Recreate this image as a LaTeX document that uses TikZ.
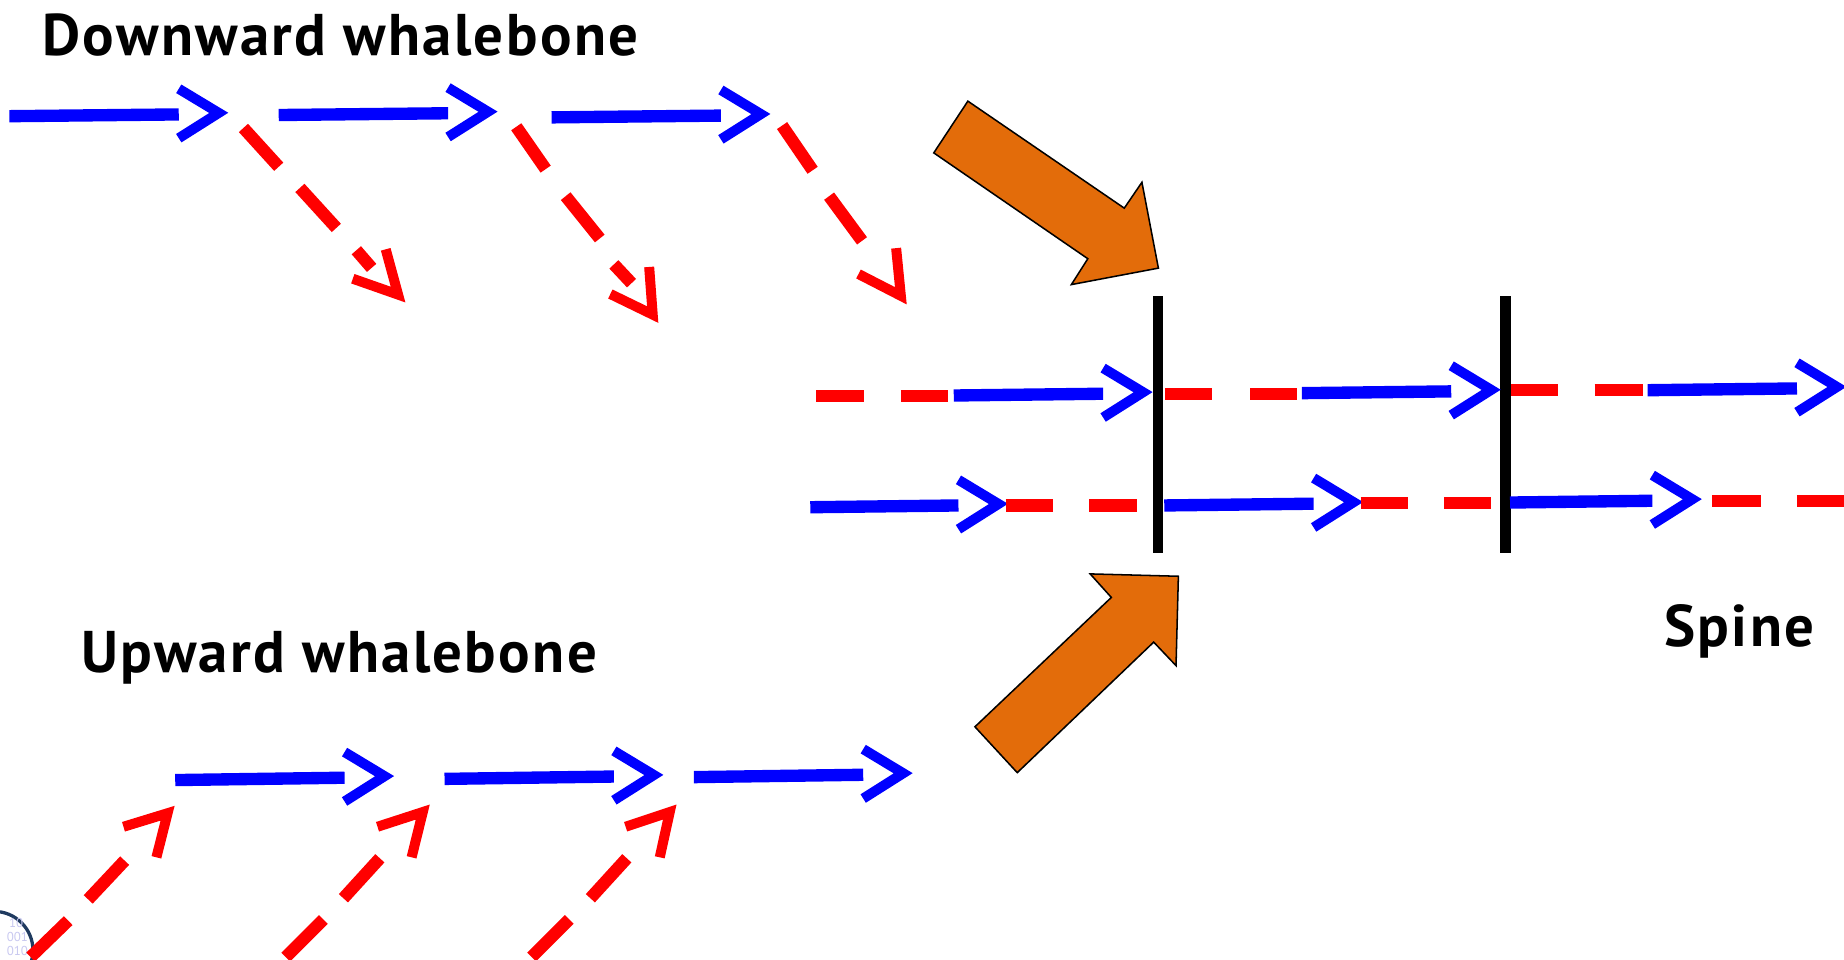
\documentclass[tikz,border=0pt]{standalone}
\usepackage{fontspec}
\setmainfont[LetterSpace=4]{PT Sans}
\newfontfamily\digitfont{PT Sans}
\definecolor{orangefill}{HTML}{E36C0A}
\definecolor{logoblue}{HTML}{1F3A5F}
\definecolor{digit}{HTML}{C8C8F0}
\tikzset{
  blueline/.style={draw=blue,line width=10.5pt,line cap=butt},
  redline/.style={draw=red,line width=10.5pt,line cap=butt},
  bluehead/.style={draw=blue,line width=8.5pt,miter limit=10,line join=miter},
  redhead/.style={draw=red,line width=8.5pt,miter limit=10,line join=miter},
  wall/.style={draw=black,line width=9pt},
  bigarrow/.style={fill=orangefill,draw=black,line width=1.3pt,line join=miter},
  label/.style={font=\fontsize{50}{50}\selectfont\bfseries,text=black,inner sep=0pt,anchor=base west},
  digitlabel/.style={inner sep=0pt,anchor=east,text=digit,font=\digitfont\fontsize{11}{11}\selectfont}
}
% blue arrow: shaft start x,y ; shaft end x,y ; the chevron follows the shaft end
\newcommand{\bluearr}[4]{%
  \draw[blueline] (#1,#2+0.8) -- (#3,#4+0.8);
  \draw[bluehead] (#3,#4-21) -- (#3+34,#4-0.5) -- (#3,#4+21);}
\newcommand{\redseg}[4]{\draw[redline] (#1,#2+0.8) -- (#3,#4+0.8);}
\begin{document}
\begin{tikzpicture}[x=1pt,y=-1pt]
\useasboundingbox (0,0) rectangle (1568,816.3);
% logo
\begin{scope}
\clip (0,0) rectangle (1568,816.3);
\draw[logoblue,line width=2.8pt] (-5,808) circle (33);
\end{scope}
\node[digitlabel] (d1) at (20,785) {10};
\node[digitlabel] (d2) at (24,797) {001};
\node[digitlabel] (d3) at (24,809) {010};
% texts
\node[label] (t1) at (36,47) {Downward whalebone};
\node[label] (t2) at (69,572) {Upward whalebone};
\node[label] (t3) at (1415,550) {Spine};
% top row
\bluearr{8}{98}{152}{96.5}
\bluearr{237}{97}{381}{95.5}
\bluearr{469}{99}{613}{97.5}
% downward red
\redseg{207}{108}{237}{141}\redseg{255}{159}{286}{193}\redseg{303}{212}{316}{227}
\draw[redhead] (328,212) -- (338.5,250.5) -- (300,237);
\redseg{439}{107}{464}{143}\redseg{481}{166}{510}{202}\redseg{522}{224}{537}{240}
\draw[redhead] (552,227) -- (555,267.5) -- (519,250);
\redseg{665}{106}{691}{144}\redseg{705}{166}{733}{204}
\draw[redhead] (762,211) -- (766,251.5) -- (730,233);
% orange
\draw[bigarrow] (823,86) -- (794,130) -- (925,220) -- (911,242) -- (985,228) -- (971,155) -- (956,177) -- cycle;
\draw[bigarrow] (829,618) -- (865,657) -- (981,546) -- (1000,566) -- (1002,490) -- (927,488) -- (945,508) -- cycle;
% spine walls
\draw[wall] (984.5,252) -- (984.5,470);
\draw[wall] (1280,252) -- (1280,470);
% spine upper
\redseg{694}{336}{735}{336}\redseg{766}{336}{806}{336}
\bluearr{811}{335.5}{938}{334}
\redseg{991}{334}{1031}{334}\redseg{1063}{334.5}{1103}{334.5}
\bluearr{1107}{333.5}{1234}{332}
\redseg{1285}{331}{1325}{331}\redseg{1356}{331}{1397}{331}
\bluearr{1401}{331}{1528}{329.5}
% spine lower
\bluearr{689}{430.5}{815}{429}
\redseg{855}{429}{895}{429}\redseg{926}{429}{967}{429}
\bluearr{990}{429}{1117}{427.5}
\redseg{1157}{427}{1197}{427}\redseg{1228}{427}{1268}{427}
\bluearr{1284}{426.5}{1405}{425}
\redseg{1456}{425}{1497}{425}\redseg{1528}{425}{1568}{425}
% bottom row
\bluearr{149}{662.5}{293}{660.5}
\bluearr{378}{661.5}{522}{659.5}
\bluearr{590}{660}{734}{658}
% upward red
\redseg{26}{813}{58}{782}\redseg{75}{764}{106}{731}
\draw[redhead] (105,703) -- (142.5,691.5) -- (133,729);
\redseg{243}{813}{275}{781}\redseg{292}{763}{323}{729}
\draw[redhead] (321,703) -- (359.5,690.5) -- (350,729);
\redseg{452}{813}{484}{781}\redseg{502}{763}{533}{729}
\draw[redhead] (532,703) -- (569.5,690.5) -- (561,729);
\end{tikzpicture}
\end{document}
